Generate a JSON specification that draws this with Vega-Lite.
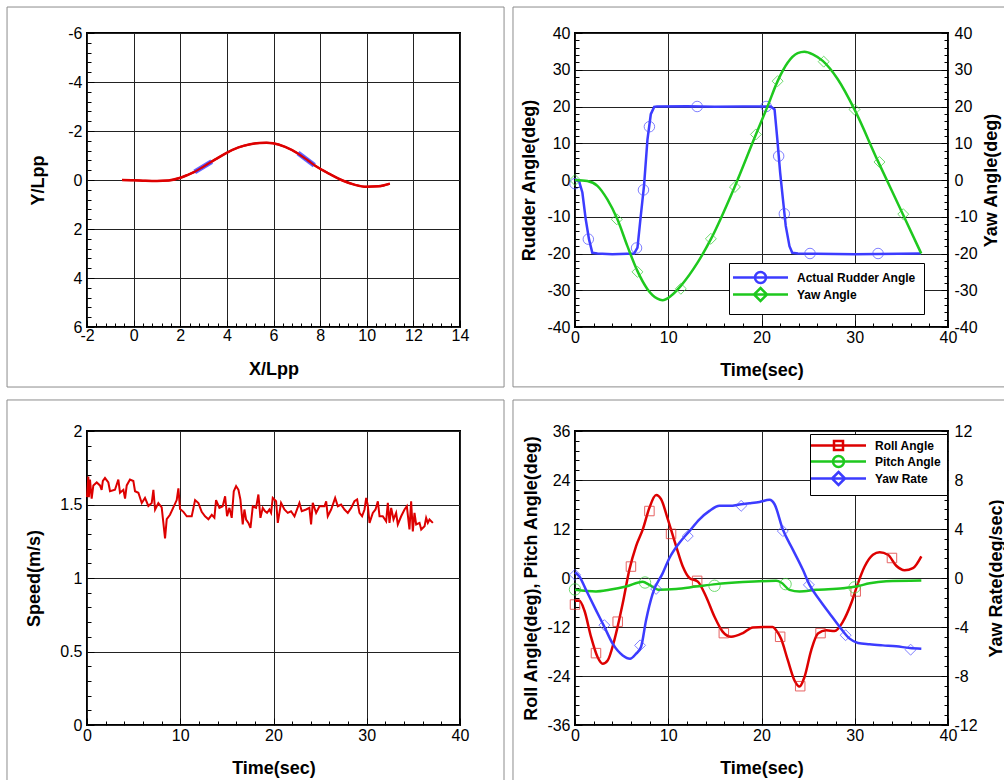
{
"$schema": "https://vega.github.io/schema/vega-lite/v6.json",
"background": "white",
"padding": {"left": 5, "top": 5, "right": 0, "bottom": 0},
"autosize": {"type": "pad"},
"datasets": {
"traj": [{"x":-0.5,"y":0},{"x":0,"y":0.01},{"x":0.5,"y":0.03},{"x":1,"y":0.04},{"x":1.5,"y":0.02},{"x":1.97,"y":-0.08},{"x":2.3,"y":-0.2},{"x":2.61,"y":-0.33},{"x":3,"y":-0.55},{"x":3.4,"y":-0.78},{"x":3.97,"y":-1.1},{"x":4.5,"y":-1.33},{"x":5,"y":-1.46},{"x":5.4,"y":-1.51},{"x":5.7,"y":-1.52},{"x":5.98,"y":-1.5},{"x":6.5,"y":-1.35},{"x":7.05,"y":-1.08},{"x":7.5,"y":-0.78},{"x":7.84,"y":-0.55},{"x":8.4,"y":-0.25},{"x":8.99,"y":0.03},{"x":9.5,"y":0.2},{"x":9.99,"y":0.28},{"x":10.5,"y":0.26},{"x":10.99,"y":0.15}],
"ship": [{"seg":"a","x":2.62,"y":-0.33},{"seg":"a","x":3.35,"y":-0.75},{"seg":"b","x":7.05,"y":-1.1},{"seg":"b","x":7.75,"y":-0.6}],
"rudder": [{"t":0,"v":0},{"t":0.43,"v":-0.3},{"t":0.79,"v":-3.4},{"t":1.15,"v":-10.7},{"t":1.5,"v":-16.1},{"t":1.86,"v":-19.8},{"t":2.4,"v":-20},{"t":4,"v":-20.2},{"t":6.34,"v":-20},{"t":6.7,"v":-18.4},{"t":7.05,"v":-9.8},{"t":7.4,"v":-1.6},{"t":7.77,"v":11},{"t":8.13,"v":17.9},{"t":8.49,"v":19.9},{"t":8.8,"v":20},{"t":12,"v":20.1},{"t":15,"v":19.9},{"t":18,"v":20},{"t":21,"v":20},{"t":21.4,"v":19.2},{"t":21.7,"v":11},{"t":22,"v":2},{"t":22.3,"v":-5.3},{"t":22.6,"v":-12.5},{"t":23,"v":-18},{"t":23.3,"v":-19.8},{"t":23.9,"v":-20},{"t":30,"v":-20.2},{"t":37.1,"v":-20}],
"rudderMk": [{"t":0,"v":-1},{"t":1.43,"v":-16.1},{"t":6.6,"v":-18.5},{"t":7.34,"v":-2.7},{"t":7.98,"v":14.5},{"t":13.1,"v":20},{"t":20.5,"v":20},{"t":21.84,"v":6.5},{"t":22.45,"v":-9.2},{"t":25.2,"v":-20},{"t":32.5,"v":-20}],
"yaw": [{"t":0,"v":0},{"t":1.32,"v":-0.3},{"t":2.4,"v":-1.6},{"t":3.47,"v":-5.3},{"t":4.55,"v":-10.7},{"t":5.62,"v":-18},{"t":6.7,"v":-24.8},{"t":7.77,"v":-29.7},{"t":8.84,"v":-32.3},{"t":9.38,"v":-32.7},{"t":10.3,"v":-31.5},{"t":11.35,"v":-28.8},{"t":13.14,"v":-22.5},{"t":14.57,"v":-16.1},{"t":17.08,"v":-2.1},{"t":19.4,"v":12.4},{"t":20.66,"v":20.1},{"t":21.73,"v":26.9},{"t":22.8,"v":31.9},{"t":23.88,"v":34.5},{"t":24.6,"v":34.9},{"t":25.5,"v":34.2},{"t":26.57,"v":32.4},{"t":28.18,"v":27.4},{"t":29.97,"v":19.2},{"t":32.47,"v":5.2},{"t":35.16,"v":-9.3},{"t":37.13,"v":-20}],
"yawMk": [{"t":0,"v":0},{"t":4.48,"v":-10.7},{"t":6.7,"v":-25},{"t":11.35,"v":-29.6},{"t":14.57,"v":-16},{"t":17.15,"v":-1.9},{"t":19.4,"v":12.4},{"t":21.73,"v":26.9},{"t":26.67,"v":32.2},{"t":29.97,"v":19.2},{"t":32.65,"v":4.9},{"t":35.2,"v":-9.3}],
"speed": [{"t":0,"v":1.55},{"t":0.14,"v":1.69},{"t":0.2,"v":1.55},{"t":0.32,"v":1.67},{"t":0.5,"v":1.54},{"t":0.68,"v":1.63},{"t":1.04,"v":1.65},{"t":1.39,"v":1.63},{"t":1.57,"v":1.6},{"t":1.7,"v":1.66},{"t":1.93,"v":1.68},{"t":2.29,"v":1.65},{"t":2.47,"v":1.59},{"t":3,"v":1.6},{"t":3.36,"v":1.67},{"t":3.54,"v":1.58},{"t":3.9,"v":1.6},{"t":4.08,"v":1.54},{"t":4.26,"v":1.63},{"t":4.61,"v":1.67},{"t":4.97,"v":1.66},{"t":5.15,"v":1.59},{"t":5.51,"v":1.58},{"t":5.87,"v":1.51},{"t":6.22,"v":1.545},{"t":6.58,"v":1.49},{"t":6.94,"v":1.51},{"t":7.12,"v":1.6},{"t":7.3,"v":1.465},{"t":7.65,"v":1.51},{"t":8.01,"v":1.48},{"t":8.37,"v":1.27},{"t":8.55,"v":1.4},{"t":8.9,"v":1.43},{"t":9.26,"v":1.48},{"t":9.62,"v":1.53},{"t":9.8,"v":1.61},{"t":9.98,"v":1.47},{"t":10.34,"v":1.45},{"t":10.7,"v":1.42},{"t":11.23,"v":1.42},{"t":11.59,"v":1.53},{"t":11.95,"v":1.51},{"t":12.3,"v":1.45},{"t":12.66,"v":1.42},{"t":13.02,"v":1.4},{"t":13.38,"v":1.43},{"t":13.66,"v":1.41},{"t":13.84,"v":1.53},{"t":14.2,"v":1.477},{"t":14.55,"v":1.488},{"t":14.81,"v":1.556},{"t":15.02,"v":1.42},{"t":15.27,"v":1.477},{"t":15.52,"v":1.409},{"t":15.74,"v":1.59},{"t":15.99,"v":1.625},{"t":16.24,"v":1.6},{"t":16.45,"v":1.534},{"t":16.7,"v":1.364},{"t":16.88,"v":1.466},{"t":17.06,"v":1.398},{"t":17.31,"v":1.375},{"t":17.53,"v":1.341},{"t":17.78,"v":1.488},{"t":18.13,"v":1.477},{"t":18.38,"v":1.568},{"t":18.6,"v":1.409},{"t":18.85,"v":1.477},{"t":19.1,"v":1.454},{"t":19.31,"v":1.443},{"t":19.56,"v":1.466},{"t":19.74,"v":1.443},{"t":19.92,"v":1.545},{"t":20.28,"v":1.522},{"t":20.46,"v":1.375},{"t":20.81,"v":1.511},{"t":21.17,"v":1.466},{"t":21.53,"v":1.443},{"t":21.88,"v":1.454},{"t":22.25,"v":1.42},{"t":22.78,"v":1.511},{"t":23.03,"v":1.454},{"t":23.5,"v":1.466},{"t":23.85,"v":1.477},{"t":24.03,"v":1.364},{"t":24.21,"v":1.511},{"t":24.57,"v":1.443},{"t":24.93,"v":1.488},{"t":25.47,"v":1.488},{"t":25.65,"v":1.522},{"t":25.82,"v":1.42},{"t":26.18,"v":1.466},{"t":26.61,"v":1.545},{"t":26.9,"v":1.488},{"t":27.25,"v":1.499},{"t":27.61,"v":1.466},{"t":27.97,"v":1.443},{"t":28.33,"v":1.477},{"t":28.68,"v":1.522},{"t":28.97,"v":1.534},{"t":29.22,"v":1.443},{"t":29.5,"v":1.42},{"t":29.76,"v":1.466},{"t":29.94,"v":1.545},{"t":30.1,"v":1.499},{"t":30.3,"v":1.375},{"t":30.65,"v":1.443},{"t":30.94,"v":1.466},{"t":31.19,"v":1.522},{"t":31.37,"v":1.42},{"t":31.72,"v":1.42},{"t":32.08,"v":1.386},{"t":32.26,"v":1.511},{"t":32.44,"v":1.375},{"t":32.62,"v":1.477},{"t":32.87,"v":1.398},{"t":33.15,"v":1.443},{"t":33.33,"v":1.364},{"t":33.69,"v":1.42},{"t":34.05,"v":1.466},{"t":34.3,"v":1.488},{"t":34.58,"v":1.33},{"t":34.76,"v":1.522},{"t":34.94,"v":1.317},{"t":35.12,"v":1.443},{"t":35.3,"v":1.364},{"t":35.66,"v":1.375},{"t":35.84,"v":1.33},{"t":36.2,"v":1.352},{"t":36.37,"v":1.409},{"t":36.55,"v":1.375},{"t":36.73,"v":1.398},{"t":37.09,"v":1.375}],
"roll": [{"t":0,"v":-5.6},{"t":0.47,"v":-5.6},{"t":1,"v":-7.9},{"t":1.72,"v":-14.4},{"t":2.43,"v":-19.4},{"t":2.97,"v":-21},{"t":3.5,"v":-20.2},{"t":4.22,"v":-15.2},{"t":5.12,"v":-6.2},{"t":5.83,"v":2},{"t":6.55,"v":7.8},{"t":7.27,"v":11.9},{"t":7.98,"v":17.2},{"t":8.7,"v":20.3},{"t":9.23,"v":19.3},{"t":9.95,"v":14.4},{"t":10.84,"v":7.8},{"t":11.56,"v":2.8},{"t":12.27,"v":0},{"t":13.17,"v":-0.9},{"t":14.06,"v":-4.6},{"t":14.96,"v":-9.5},{"t":15.85,"v":-13.2},{"t":16.74,"v":-14.4},{"t":18,"v":-13.5},{"t":19.07,"v":-12.1},{"t":21.2,"v":-12},{"t":21.57,"v":-12.8},{"t":22.1,"v":-14.9},{"t":22.83,"v":-20.2},{"t":23.54,"v":-25.1},{"t":24.08,"v":-26.6},{"t":24.6,"v":-24.3},{"t":25.33,"v":-17.7},{"t":26.05,"v":-13.6},{"t":26.94,"v":-12.8},{"t":27.84,"v":-13},{"t":28.73,"v":-10.7},{"t":29.62,"v":-6.2},{"t":30.34,"v":-1.3},{"t":31.06,"v":2.8},{"t":31.95,"v":5.7},{"t":32.67,"v":6.3},{"t":33.56,"v":5.7},{"t":34.45,"v":3},{"t":35.35,"v":1.9},{"t":36.24,"v":2.4},{"t":37.14,"v":5.3}],
"rollMk": [{"t":0,"v":-6.5},{"t":2.25,"v":-18.4},{"t":4.58,"v":-10.7},{"t":6,"v":2.8},{"t":7.98,"v":16.4},{"t":10.3,"v":10.8},{"t":13.1,"v":-0.7},{"t":15.96,"v":-13.5},{"t":22,"v":-14.4},{"t":24.15,"v":-26.5},{"t":26.33,"v":-13.5},{"t":30.1,"v":-3.3},{"t":33.99,"v":4.9}],
"pitch": [{"t":0,"v":-2.9},{"t":2.25,"v":-3.3},{"t":3.68,"v":-2.9},{"t":5.47,"v":-2.1},{"t":7.27,"v":-0.9},{"t":7.98,"v":-1.7},{"t":9.05,"v":-2.9},{"t":10.84,"v":-2.7},{"t":12.99,"v":-2.1},{"t":15.13,"v":-1.5},{"t":18,"v":-1},{"t":21.57,"v":-0.7},{"t":22.1,"v":-1.1},{"t":23,"v":-2.9},{"t":24.08,"v":-3.3},{"t":25.87,"v":-2.9},{"t":28.73,"v":-2.5},{"t":30.16,"v":-2.1},{"t":31.6,"v":-1.3},{"t":33.38,"v":-0.8},{"t":37.14,"v":-0.6}],
"pitchMk": [{"t":0,"v":-2.8},{"t":7.51,"v":-1.1},{"t":14.96,"v":-1.9},{"t":22.58,"v":-1.5},{"t":29.98,"v":-2.3}],
"yawRate": [{"t":0,"v":0.46},{"t":0.47,"v":0.13},{"t":1.18,"v":-0.97},{"t":2.25,"v":-2.62},{"t":3.15,"v":-3.99},{"t":4.04,"v":-5.36},{"t":5.12,"v":-6.32},{"t":5.9,"v":-6.59},{"t":6.55,"v":-6.18},{"t":7.08,"v":-5.63},{"t":7.62,"v":-3.44},{"t":8.34,"v":-1.25},{"t":9.41,"v":0.4},{"t":10.13,"v":1.63},{"t":11.2,"v":2.87},{"t":12.27,"v":3.83},{"t":13.35,"v":4.79},{"t":14.42,"v":5.48},{"t":15.49,"v":5.89},{"t":16.57,"v":5.89},{"t":17.82,"v":6.02},{"t":18.72,"v":6.1},{"t":19.79,"v":6.21},{"t":20.86,"v":6.38},{"t":21.4,"v":6.02},{"t":22.29,"v":3.96},{"t":23.36,"v":2.32},{"t":24.44,"v":0.67},{"t":25.15,"v":-0.56},{"t":26.23,"v":-1.79},{"t":27.3,"v":-2.89},{"t":28.38,"v":-3.99},{"t":29.45,"v":-4.95},{"t":30.34,"v":-5.3},{"t":31.6,"v":-5.41},{"t":33,"v":-5.5},{"t":34.45,"v":-5.58},{"t":35.9,"v":-5.71},{"t":37.14,"v":-5.77}],
"yawRateMk": [{"t":0,"v":0.26},{"t":3.15,"v":-3.85},{"t":6.98,"v":-5.5},{"t":8.7,"v":-0.89},{"t":12.09,"v":3.42},{"t":17.82,"v":5.89},{"t":22.29,"v":3.83},{"t":25.08,"v":-0.56},{"t":29.02,"v":-4.67},{"t":35.99,"v":-5.85}]
},
"bounds": "flush",
"columns": 2,
"spacing": {"row": 104, "column": 115},
"resolve": {"scale": {"color": "independent"}, "legend": {"color": "independent"}},
"concat": [
{
"width": 373, "height": 294,
"layer": [
{"data": {"name": "traj"}, "mark": {"type": "line", "color": "#dd0000", "strokeWidth": 2.5, "interpolate": "monotone"},
 "encoding": {
  "x": {"field": "x", "type": "quantitative", "scale": {"domain": [-2, 14], "nice": false, "zero": false},
   "axis": {"title": "X/Lpp", "tickCount": 1000, "values": [-2,-1.6,-1.2,-0.8,-0.4,0,0.4,0.8,1.2,1.6,2,2.4,2.8,3.2,3.6,4,4.4,4.8,5.2,5.6,6,6.4,6.8,7.2,7.6,8,8.4,8.8,9.2,9.6,10,10.4,10.8,11.2,11.6,12,12.4,12.8,13.2,13.6,14],
    "labelExpr": "abs(datum.value/2-round(datum.value/2))<1e-6 ? ''+datum.value : ''",
    "tickSize": {"condition": {"test": "abs(datum.value/2-round(datum.value/2))<1e-6", "value": -7}, "value": -4},
    "gridOpacity": {"condition": {"test": "abs(datum.value/2-round(datum.value/2))<1e-6", "value": 1}, "value": 0},
    "labelPadding": 7, "titlePadding": 14}},
  "y": {"field": "y", "type": "quantitative", "scale": {"domain": [-6, 6], "nice": false, "zero": false, "reverse": true},
   "axis": {"title": "Y/Lpp", "tickCount": 1000, "values": [-6,-5.6,-5.2,-4.8,-4.4,-4,-3.6,-3.2,-2.8,-2.4,-2,-1.6,-1.2,-0.8,-0.4,0,0.4,0.8,1.2,1.6,2,2.4,2.8,3.2,3.6,4,4.4,4.8,5.2,5.6,6],
    "labelExpr": "abs(datum.value/2-round(datum.value/2))<1e-6 ? ''+datum.value : ''",
    "tickSize": {"condition": {"test": "abs(datum.value/2-round(datum.value/2))<1e-6", "value": -7}, "value": -4},
    "gridOpacity": {"condition": {"test": "abs(datum.value/2-round(datum.value/2))<1e-6", "value": 1}, "value": 0},
    "labelPadding": 12, "titlePadding": 20}}
 }},
{"data": {"name": "ship"}, "mark": {"type": "line", "color": "#3c3cff", "strokeWidth": 5, "opacity": 0.8},
 "encoding": {"x": {"field": "x", "type": "quantitative"}, "y": {"field": "y", "type": "quantitative"}, "detail": {"field": "seg"}}},
{"data": {"name": "traj"}, "mark": {"type": "line", "color": "#dd0000", "strokeWidth": 2, "interpolate": "monotone"},
 "encoding": {"x": {"field": "x", "type": "quantitative"}, "y": {"field": "y", "type": "quantitative"}}},
{"data": {"values": [{}]}, "mark": {"type": "rect", "fill": null, "stroke": "#8c8c8c", "strokeWidth": 1},
 "encoding": {"x": {"datum": -5.43, "type": "quantitative"}, "x2": {"datum": 15.89}, "y": {"datum": -7.06, "type": "quantitative"}, "y2": {"datum": 8.45}}}
]
},
{
"width": 373, "height": 294,
"layer": [
{"layer": [
 {"data": {"name": "rudder"}, "mark": {"type": "line", "strokeWidth": 2.5},
  "encoding": {
   "x": {"field": "t", "type": "quantitative", "scale": {"domain": [0, 40], "nice": false, "zero": false},
    "axis": {"title": "Time(sec)", "tickCount": 1000, "values": [0,2,4,6,8,10,12,14,16,18,20,22,24,26,28,30,32,34,36,38,40],
     "labelExpr": "abs(datum.value/10-round(datum.value/10))<1e-6 ? ''+datum.value : ''",
     "tickSize": {"condition": {"test": "abs(datum.value/10-round(datum.value/10))<1e-6", "value": -7}, "value": -4},
     "gridOpacity": {"condition": {"test": "abs(datum.value/10-round(datum.value/10))<1e-6", "value": 1}, "value": 0},
     "labelPadding": 9, "titlePadding": 13}},
   "y": {"field": "v", "type": "quantitative", "scale": {"domain": [-40, 40], "nice": false, "zero": false},
    "axis": {"title": "Rudder Angle(deg)", "tickCount": 1000, "values": [-40,-38,-36,-34,-32,-30,-28,-26,-24,-22,-20,-18,-16,-14,-12,-10,-8,-6,-4,-2,0,2,4,6,8,10,12,14,16,18,20,22,24,26,28,30,32,34,36,38,40],
     "labelExpr": "abs(datum.value/10-round(datum.value/10))<1e-6 ? ''+datum.value : ''",
     "tickSize": {"condition": {"test": "abs(datum.value/10-round(datum.value/10))<1e-6", "value": -7}, "value": -4},
     "gridOpacity": {"condition": {"test": "abs(datum.value/10-round(datum.value/10))<1e-6", "value": 1}, "value": 0},
     "labelPadding": 12, "titlePadding": 8}},
   "color": {"datum": "Actual Rudder Angle", "scale": {"domain": ["Actual Rudder Angle", "Yaw Angle"], "range": ["#3c3cff", "#1ec81e"]},
    "legend": {"title": null, "orient": "none", "legendX": 154, "legendY": 230, "padding": 8, "rowPadding": -5, "symbolOffset": 17, "labelOffset": 30, "symbolSize": 100, "symbolStrokeWidth": 2.5,
     "encode": {"symbols": {"update": {"shape": {"signal": "datum.value === 'Yaw Angle' ? 'M-5.5,0L5.5,0M0,-1.3L1.3,0L0,1.3L-1.3,0Z' : 'M-5.5,0L5.5,0M1.1,0A1.1,1.1 0 1 1 -1.1,0A1.1,1.1 0 1 1 1.1,0'"}, "fill": {"value": "transparent"}, "strokeWidth": {"value": 2.5}}}}}}
  }},
 {"data": {"name": "rudderMk"}, "mark": {"type": "point", "shape": "circle", "filled": false, "color": "#4a4aff", "size": 110, "strokeWidth": 1},
  "encoding": {"x": {"field": "t", "type": "quantitative"}, "y": {"field": "v", "type": "quantitative"}}},
 {"data": {"values": [{}]}, "mark": {"type": "rect", "fill": null, "stroke": "#8c8c8c", "strokeWidth": 1},
  "encoding": {"x": {"datum": -6.65, "type": "quantitative"}, "x2": {"datum": 46.5}, "y": {"datum": 47.07, "type": "quantitative"}, "y2": {"datum": -56.3}}}
]},
{"layer": [
 {"data": {"name": "yaw"}, "mark": {"type": "line", "strokeWidth": 2.5, "interpolate": "monotone"},
  "encoding": {
   "x": {"field": "t", "type": "quantitative"},
   "y": {"field": "v", "type": "quantitative", "scale": {"domain": [-40, 40], "nice": false, "zero": false},
    "axis": {"orient": "right", "title": "Yaw Angle(deg)", "tickCount": 1000, "grid": false, "titleAngle": 270, "titleBaseline": "top", "values": [-40,-38,-36,-34,-32,-30,-28,-26,-24,-22,-20,-18,-16,-14,-12,-10,-8,-6,-4,-2,0,2,4,6,8,10,12,14,16,18,20,22,24,26,28,30,32,34,36,38,40],
     "labelExpr": "abs(datum.value/10-round(datum.value/10))<1e-6 ? ''+datum.value : ''",
     "tickSize": {"condition": {"test": "abs(datum.value/10-round(datum.value/10))<1e-6", "value": -7}, "value": -4},
     "labelPadding": 13, "titlePadding": 5}},
   "color": {"datum": "Yaw Angle"}
  }},
 {"data": {"name": "yawMk"}, "mark": {"type": "point", "shape": "diamond", "filled": false, "color": "#33cc33", "size": 120, "strokeWidth": 1},
  "encoding": {"x": {"field": "t", "type": "quantitative"}, "y": {"field": "v", "type": "quantitative"}}}
]}
],
"resolve": {"scale": {"y": "independent"}}
},
{
"width": 373, "height": 294,
"layer": [
{"data": {"name": "speed"}, "mark": {"type": "line", "color": "#dd0000", "strokeWidth": 2},
 "encoding": {
  "x": {"field": "t", "type": "quantitative", "scale": {"domain": [0, 40], "nice": false, "zero": false},
   "axis": {"title": "Time(sec)", "tickCount": 1000, "values": [0,2,4,6,8,10,12,14,16,18,20,22,24,26,28,30,32,34,36,38,40],
    "labelExpr": "abs(datum.value/10-round(datum.value/10))<1e-6 ? ''+datum.value : ''",
    "tickSize": {"condition": {"test": "abs(datum.value/10-round(datum.value/10))<1e-6", "value": -7}, "value": -4},
    "gridOpacity": {"condition": {"test": "abs(datum.value/10-round(datum.value/10))<1e-6", "value": 1}, "value": 0},
    "labelPadding": 9, "titlePadding": 13}},
  "y": {"field": "v", "type": "quantitative", "scale": {"domain": [0, 2], "nice": false, "zero": false},
   "axis": {"title": "Speed(m/s)", "tickCount": 1000, "values": [0,0.1,0.2,0.3,0.4,0.5,0.6,0.7,0.8,0.9,1,1.1,1.2,1.3,1.4,1.5,1.6,1.7,1.8,1.9,2],
    "labelExpr": "abs(datum.value/0.5-round(datum.value/0.5))<1e-6 ? ''+datum.value : ''",
    "tickSize": {"condition": {"test": "abs(datum.value/0.5-round(datum.value/0.5))<1e-6", "value": -7}, "value": -4},
    "gridOpacity": {"condition": {"test": "abs(datum.value/0.5-round(datum.value/0.5))<1e-6", "value": 1}, "value": 0},
    "labelPadding": 12, "titlePadding": 16}}
 }},
{"data": {"values": [{}]}, "mark": {"type": "rect", "fill": null, "stroke": "#8c8c8c", "strokeWidth": 1},
 "encoding": {"x": {"datum": -8.58, "type": "quantitative"}, "x2": {"datum": 44.72}, "y": {"datum": 2.211, "type": "quantitative"}, "y2": {"datum": -0.5}}}
]
},
{
"width": 373, "height": 294,
"layer": [
{"layer": [
 {"data": {"name": "roll"}, "mark": {"type": "line", "strokeWidth": 2.5, "interpolate": "monotone"},
  "encoding": {
   "x": {"field": "t", "type": "quantitative", "scale": {"domain": [0, 40], "nice": false, "zero": false},
    "axis": {"title": "Time(sec)", "tickCount": 1000, "values": [0,2,4,6,8,10,12,14,16,18,20,22,24,26,28,30,32,34,36,38,40],
     "labelExpr": "abs(datum.value/10-round(datum.value/10))<1e-6 ? ''+datum.value : ''",
     "tickSize": {"condition": {"test": "abs(datum.value/10-round(datum.value/10))<1e-6", "value": -7}, "value": -4},
     "gridOpacity": {"condition": {"test": "abs(datum.value/10-round(datum.value/10))<1e-6", "value": 1}, "value": 0},
     "labelPadding": 9, "titlePadding": 13}},
   "y": {"field": "v", "type": "quantitative", "scale": {"domain": [-36, 36], "nice": false, "zero": false},
    "axis": {"title": "Roll Angle(deg), Pitch Angle(deg)", "tickCount": 1000, "values": [-36,-33.6,-31.2,-28.8,-26.4,-24,-21.6,-19.2,-16.8,-14.4,-12,-9.6,-7.2,-4.8,-2.4,0,2.4,4.8,7.2,9.6,12,14.4,16.8,19.2,21.6,24,26.4,28.8,31.2,33.6,36],
     "labelExpr": "abs(datum.value/12-round(datum.value/12))<1e-6 ? ''+datum.value : ''",
     "tickSize": {"condition": {"test": "abs(datum.value/12-round(datum.value/12))<1e-6", "value": -7}, "value": -4},
     "gridOpacity": {"condition": {"test": "abs(datum.value/12-round(datum.value/12))<1e-6", "value": 1}, "value": 0},
     "labelPadding": 12, "titlePadding": 6}},
   "color": {"datum": "Roll Angle", "scale": {"domain": ["Roll Angle", "Pitch Angle", "Yaw Rate"], "range": ["#dd0000", "#1ec81e", "#3c3cff"]},
    "legend": {"title": null, "orient": "none", "legendX": 235, "legendY": 3, "padding": 5, "rowPadding": -5, "symbolOffset": 17, "labelOffset": 30, "symbolSize": 100, "symbolStrokeWidth": 2.5,
     "encode": {"symbols": {"update": {"shape": {"signal": "datum.value === 'Roll Angle' ? 'M-5.5,0L5.5,0M-0.9,-0.9L0.9,-0.9L0.9,0.9L-0.9,0.9Z' : datum.value === 'Pitch Angle' ? 'M-5.5,0L5.5,0M1.1,0A1.1,1.1 0 1 1 -1.1,0A1.1,1.1 0 1 1 1.1,0' : 'M-5.5,0L5.5,0M0,-1.3L1.3,0L0,1.3L-1.3,0Z'"}, "fill": {"value": "transparent"}, "strokeWidth": {"value": 2.5}}}}}}
  }},
 {"data": {"name": "rollMk"}, "mark": {"type": "point", "shape": "square", "filled": false, "color": "#dd2222", "size": 90, "strokeWidth": 1},
  "encoding": {"x": {"field": "t", "type": "quantitative"}, "y": {"field": "v", "type": "quantitative"}}},
 {"data": {"name": "pitch"}, "mark": {"type": "line", "strokeWidth": 2.5, "interpolate": "monotone"},
  "encoding": {"x": {"field": "t", "type": "quantitative"}, "y": {"field": "v", "type": "quantitative"}, "color": {"datum": "Pitch Angle"}}},
 {"data": {"name": "pitchMk"}, "mark": {"type": "point", "shape": "circle", "filled": false, "color": "#33cc33", "size": 130, "strokeWidth": 1},
  "encoding": {"x": {"field": "t", "type": "quantitative"}, "y": {"field": "v", "type": "quantitative"}}},
 {"data": {"values": [{}]}, "mark": {"type": "rect", "fill": null, "stroke": "#8c8c8c", "strokeWidth": 1},
  "encoding": {"x": {"datum": -6.65, "type": "quantitative"}, "x2": {"datum": 46.5}, "y": {"datum": 43.59, "type": "quantitative"}, "y2": {"datum": -52}}}
]},
{"layer": [
 {"data": {"name": "yawRate"}, "mark": {"type": "line", "strokeWidth": 2.5, "interpolate": "monotone"},
  "encoding": {
   "x": {"field": "t", "type": "quantitative"},
   "y": {"field": "v", "type": "quantitative", "scale": {"domain": [-12, 12], "nice": false, "zero": false},
    "axis": {"orient": "right", "title": "Yaw Rate(deg/sec)", "tickCount": 1000, "grid": false, "titleAngle": 270, "titleBaseline": "top", "values": [-12,-11.2,-10.4,-9.6,-8.8,-8,-7.2,-6.4,-5.6,-4.8,-4,-3.2,-2.4,-1.6,-0.8,0,0.8,1.6,2.4,3.2,4,4.8,5.6,6.4,7.2,8,8.8,9.6,10.4,11.2,12],
     "labelExpr": "abs(datum.value/4-round(datum.value/4))<1e-6 ? ''+datum.value : ''",
     "tickSize": {"condition": {"test": "abs(datum.value/4-round(datum.value/4))<1e-6", "value": -7}, "value": -4},
     "labelPadding": 13, "titlePadding": 10}},
   "color": {"datum": "Yaw Rate"}
  }},
 {"data": {"name": "yawRateMk"}, "mark": {"type": "point", "shape": "diamond", "filled": false, "color": "#4a4aff", "size": 120, "strokeWidth": 1},
  "encoding": {"x": {"field": "t", "type": "quantitative"}, "y": {"field": "v", "type": "quantitative"}}}
]}
],
"resolve": {"scale": {"y": "independent"}}
}
],
"config": {
 "view": {"stroke": "black", "strokeWidth": 2},
 "font": "Liberation Sans",
 "axis": {"domain": false, "grid": true, "gridColor": "#222222", "gridWidth": 1, "tickColor": "black", "tickWidth": 1,
  "labelFont": "Liberation Sans", "labelFontSize": 16, "labelColor": "black", "labelFlush": false, "labelOverlap": false,
  "titleFont": "Liberation Sans", "titleFontSize": 18, "titleFontWeight": "bold", "titleColor": "black"},
 "legend": {"labelFont": "Liberation Sans", "labelFontSize": 12, "labelFontWeight": "bold", "labelColor": "black",
  "fillColor": "white", "strokeColor": "black", "cornerRadius": 0, "rowPadding": 0, "direction": "vertical"}
}
}
